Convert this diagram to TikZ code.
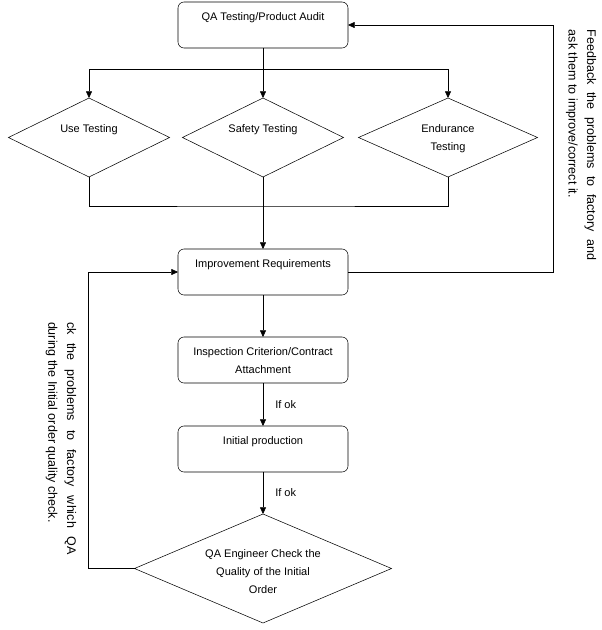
\documentclass[tikz,border=0pt]{standalone}
\usepackage{fontspec}
\setmainfont{Liberation Sans}
\usetikzlibrary{
  shapes.geometric, % Shape "diamond"
  arrows.meta,
  positioning,      % Function "of" (e.g. [below=of x])
}
\def\myboxw{127.5pt}
\def\myboxh{34.5pt}
\def\myvdist{31.5pt}
\tikzset{
  font=\fontsize{8.25pt}{13.5pt}\selectfont,
  x=0.75pt,
  y=-0.75pt,
  line width=0.6pt,
  >={Triangle[length=5pt,width=4.5pt]},
  one line/.style={
    text height=9.5pt,
    text depth=16.25pt
  },
  two lines/.style={
    text height=23pt,
    text depth=3.5pt
  },
  three lines/.style={
    text height=38pt,
    text depth=1.25pt
  },
  my box/.style={
    draw,
    rectangle,
    rounded corners=4.5pt,
    minimum width=\myboxw,
    minimum height=\myboxh,
    inner sep=0pt,
    outer sep=0pt,
    align=center,
    one line
  },
  my test/.style={
    draw,
    diamond,
    minimum width=120.75pt,
    minimum height=59.25pt,
    aspect=2.04,
    inner sep=0pt,
    outer sep=0pt,
    align=center,
    one line
  },
  my note/.style={
    rotate=-90,
    text width=172.5pt,
    align=justify,
    inner sep=0pt,
    font=\fontsize{9.4pt}{13.9pt}\selectfont
  },
  my label/.style={
    inner sep=0pt
  }
}

\begin{document}
\begin{tikzpicture}
\useasboundingbox (0,0) rectangle (601,630);
\node[my box]  (qa)      at (263,25)         {QA Testing/Product Audit};
\node[my test] (safety)  [below=37.5pt of qa] {Safety Testing};
\node[my test] (use)     [left=9.75pt of safety] {Use Testing};
\node[my test,minimum width=134.25pt,aspect=2.27,two lines]
               (endur)   [right=11.25pt of safety] {Endurance\\Testing};
\node[my box]  (improve) [below=54pt of safety] {Improvement Requirements};
\node[my box,two lines]
               (inspect) [below=\myvdist of improve] {Inspection Criterion/Contract\\Attachment};
\node[my box]  (initial) [below=32.25pt of inspect] {Initial production};
\node[my test,minimum width=192.75pt,minimum height=81.75pt,aspect=2.36,three lines]
               (check)   [below=\myvdist of initial] {QA Engineer Check the\\Quality of the Initial\\Order};

\coordinate[below=15.75pt of qa]     (split);
\coordinate[below=21.75pt of safety] (merge);
\coordinate (rline) at (553,0);
\coordinate (lline) at (88,0);

\draw[->] (qa) -- (safety);
\draw[->] (split) -| (use.north);
\draw[->] (split) -| (endur.north);
\draw (use.south) |- (merge) -| (endur.south);
\draw[->] (safety) -- (improve);
\draw[->] (improve) -- (inspect);
\path[->] (inspect) edge node[my label,right=9pt]{If ok} (initial)
          (initial) edge node[my label,right=9pt]{If ok} (check);
\draw[->] (improve.east) -- (improve.east -| rline) |- (qa.east);
\draw[->] (check.west) -- (check.west -| lline) |- (improve.west);

\node[my note] (fbright) at (581,145)
  {Feedback the problems to factory and\linebreak ask them to improve/correct it.};
\node[my note,text width=174.75pt] (fbleft) at (61,438.5)
  {ck the problems to factory which QA\linebreak during the Initial order quality check.};
\end{tikzpicture}
\end{document}
